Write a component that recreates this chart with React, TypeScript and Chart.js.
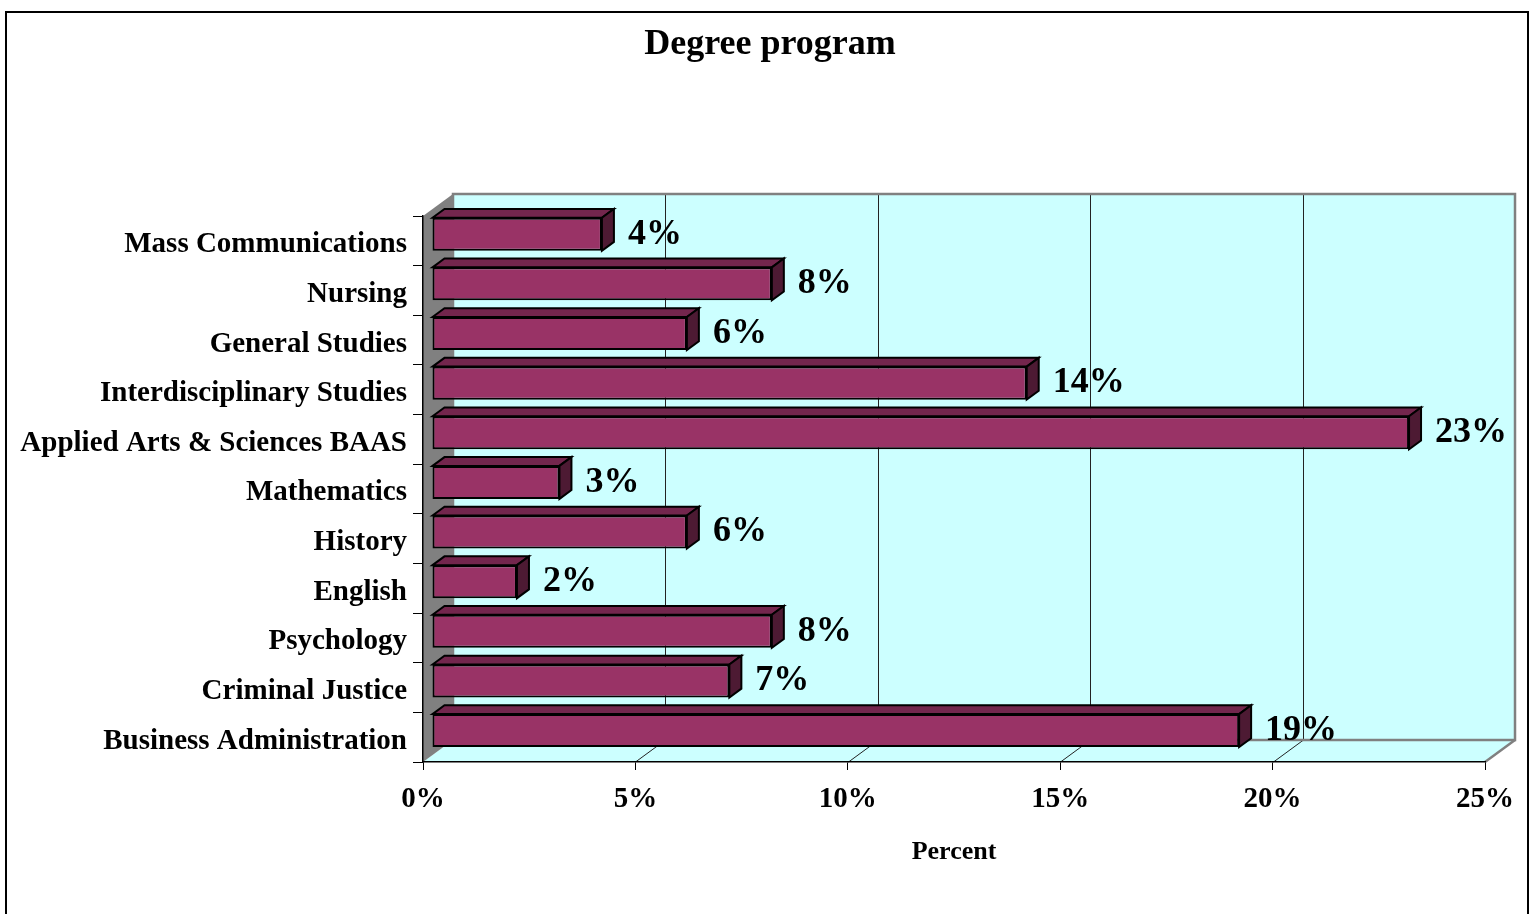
import React, { useEffect, useRef } from "react";
import { Chart, registerables } from "chart.js";

Chart.register(...registerables);

const categories = [
  "Mass Communications",
  "Nursing",
  "General Studies",
  "Interdisciplinary Studies",
  "Applied Arts & Sciences BAAS",
  "Mathematics",
  "History",
  "English",
  "Psychology",
  "Criminal Justice",
  "Business Administration",
];
const percents = [4, 8, 6, 14, 23, 3, 6, 2, 8, 7, 19];
const xTickValues = [0, 5, 10, 15, 20, 25];
const chartTitle = "Degree program";
const xAxisTitle = "Percent";

const FONT = '"Liberation Serif", "Times New Roman", serif';
const DX = 30;
const DY = 22;
const FRONT = 0.3;
const DEPTH = 0.4;
const WALL = "#CCFFFF";
const GRAY = "#808080";
const BAR_FRONT = "#993366";
const BAR_TOP = "#73264D";
const BAR_SIDE = "#4D1A33";

const threeD = {
  id: "threeD",
  beforeDraw(chart: any) {
    const { ctx, chartArea: ca, scales } = chart;
    const xs = scales.x;
    const x0 = xs.getPixelForValue(xs.min);
    const x1 = xs.getPixelForValue(xs.max);
    const top = ca.top;
    const bot = ca.bottom;
    ctx.save();
    ctx.fillStyle = "#fff";
    ctx.fillRect(0, 0, chart.width, chart.height);
    ctx.strokeStyle = "#000";
    ctx.lineWidth = 2;
    ctx.strokeRect(6, 12, 1522, 930);

    // title
    ctx.fillStyle = "#000";
    ctx.font = `bold 36px ${FONT}`;
    ctx.textAlign = "center";
    ctx.textBaseline = "middle";
    ctx.fillText(chartTitle, 770, 45);

    // back wall
    ctx.fillStyle = WALL;
    ctx.fillRect(x0 + DX, top - DY, x1 - x0, bot - top);
    // floor
    ctx.beginPath();
    ctx.moveTo(x0, bot);
    ctx.lineTo(x0 + DX, bot - DY);
    ctx.lineTo(x1 + DX, bot - DY);
    ctx.lineTo(x1, bot);
    ctx.closePath();
    ctx.fill();

    // gridlines on back wall + floor
    ctx.strokeStyle = "#222";
    ctx.lineWidth = 1;
    for (const v of xTickValues) {
      if (v === xs.min || v === xs.max) continue;
      const px = Math.round(xs.getPixelForValue(v)) + 0.5;
      ctx.beginPath();
      ctx.moveTo(px + DX, top - DY);
      ctx.lineTo(px + DX, bot - DY);
      ctx.moveTo(px, bot);
      ctx.lineTo(px + DX, bot - DY);
      ctx.stroke();
    }

    // wall border
    ctx.strokeStyle = GRAY;
    ctx.lineWidth = 2.5;
    ctx.strokeRect(x0 + DX, top - DY, x1 - x0, bot - top);
    ctx.beginPath();
    ctx.moveTo(x1 + DX, bot - DY);
    ctx.lineTo(x1, bot);
    ctx.stroke();

    // left side wall
    ctx.fillStyle = GRAY;
    ctx.beginPath();
    ctx.moveTo(x0, top);
    ctx.lineTo(x0 + DX, top - DY);
    ctx.lineTo(x0 + DX, bot - DY);
    ctx.lineTo(x0, bot);
    ctx.closePath();
    ctx.fill();
    ctx.restore();
  },
  beforeDatasetsDraw(chart: any) {
    const { ctx } = chart;
    ctx.save();
    ctx.translate(DX * FRONT, -DY * FRONT);
  },
  afterDatasetsDraw(chart: any) {
    const { ctx } = chart;
    const meta = chart.getDatasetMeta(0);
    const ox = DX * DEPTH;
    const oy = DY * DEPTH;
    ctx.lineWidth = 2;
    ctx.strokeStyle = "#000";
    ctx.lineJoin = "miter";
    meta.data.forEach((bar: any) => {
      const { x, y, base, height } = bar.getProps(["x", "y", "base", "height"], true);
      const l = base;
      const r = x;
      const t = y - height / 2;
      const b = y + height / 2;
      // top face
      ctx.fillStyle = BAR_TOP;
      ctx.beginPath();
      ctx.moveTo(l, t);
      ctx.lineTo(l + ox, t - oy);
      ctx.lineTo(r + ox, t - oy);
      ctx.lineTo(r, t);
      ctx.closePath();
      ctx.fill();
      ctx.stroke();
      // side face
      ctx.fillStyle = BAR_SIDE;
      ctx.beginPath();
      ctx.moveTo(r, t);
      ctx.lineTo(r + ox, t - oy);
      ctx.lineTo(r + ox, b - oy);
      ctx.lineTo(r, b);
      ctx.closePath();
      ctx.fill();
      ctx.stroke();
    });
    ctx.restore();

    // data labels
    ctx.save();
    ctx.fillStyle = "#000";
    ctx.font = `bold 36px ${FONT}`;
    ctx.textAlign = "left";
    ctx.textBaseline = "middle";
    meta.data.forEach((bar: any, i: number) => {
      const { x, y } = bar.getProps(["x", "y"], true);
      const lx = x + DX * FRONT + ox + 14;
      const ly = y - DY * FRONT;
      ctx.fillText(`${percents[i]}%`, lx, ly);
    });
    ctx.restore();
  },
};

export default function App() {
  const ref = useRef<HTMLCanvasElement | null>(null);
  useEffect(() => {
    if (!ref.current) return;
    const chart = new Chart(ref.current, {
      type: "bar",
      data: {
        labels: categories,
        datasets: [
          {
            data: percents,
            backgroundColor: BAR_FRONT,
            borderColor: "#000",
            borderWidth: 2,
            borderSkipped: false,
            categoryPercentage: 1,
            barPercentage: 0.665,
          },
        ],
      },
      options: {
        responsive: false,
        animation: false,
        indexAxis: "y",
        layout: { padding: { left: 0, right: 46, top: 216, bottom: 0 } },
        plugins: {
          legend: { display: false },
          tooltip: { enabled: false },
          title: { display: false },
        },
        scales: {
          x: {
            type: "linear",
            min: 0,
            max: 25,
            afterBuildTicks: (s: any) => {
              s.ticks = xTickValues.map((v) => ({ value: v }));
            },
            ticks: {
              callback: (v: any) => `${v}%`,
              color: "#000",
              font: { family: FONT, size: 29, weight: "bold" },
              padding: 12,
              autoSkip: false,
              maxRotation: 0,
            },
            grid: { drawOnChartArea: false, drawTicks: true, tickLength: 8, color: "#000", lineWidth: 1 },
            border: { display: true, color: "#000", width: 1.5 },
            title: {
              display: true,
              text: xAxisTitle,
              color: "#000",
              font: { family: FONT, size: 26, weight: "bold", lineHeight: 1.2 },
              padding: { top: 0, bottom: 46 },
            },
            afterFit: (s: any) => {
              s.height = 152;
            },
          },
          y: {
            type: "category",
            ticks: {
              color: "#000",
              font: { family: FONT, size: 29, weight: "bold" },
              padding: 6,
              labelOffset: 4,
              autoSkip: false,
            },
            grid: { drawOnChartArea: false, drawTicks: true, tickLength: 10, color: "#000", lineWidth: 1, offset: true },
            border: { display: true, color: "#000", width: 1.5 },
            afterFit: (s: any) => {
              s.width = 423;
            },
          },
        },
      } as any,
      plugins: [threeD],
    });
    return () => chart.destroy();
  }, []);
  return (
    <div style={{ position: "fixed", left: 0, top: 0, width: 1531, height: 914, background: "#fff" }}>
      <canvas ref={ref} width={1531} height={914} style={{ display: "block" }} />
    </div>
  );
}
